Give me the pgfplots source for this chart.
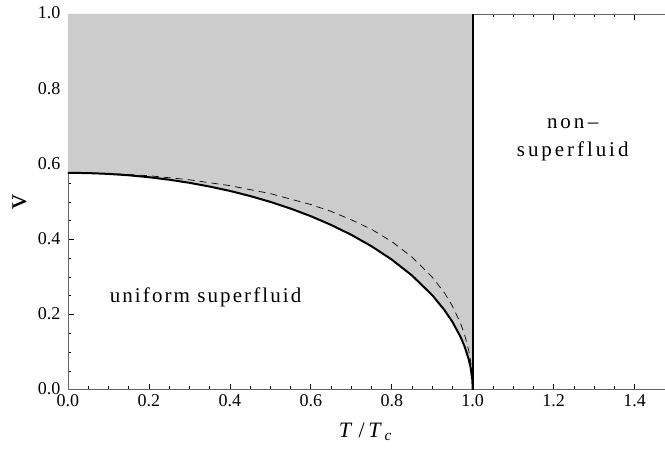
\documentclass[border=0pt]{standalone}
\usepackage{fontspec}
\setmainfont{Liberation Serif}
\usepackage{pgfplots}
\pgfplotsset{compat=1.18}

\definecolor{shade}{HTML}{CCCCCC}
\definecolor{frame}{HTML}{666666}

\begin{document}
\begin{tikzpicture}
\begin{axis}[
    scale only axis,
    width=597pt, height=376pt,
    xmin=0, xmax=1.474, ymin=0, ymax=1,
    axis x line=box, axis y line=left,
    axis line style={frame, line width=0.8pt, -},
    xtick={0,0.2,...,1.4}, ytick={0,0.2,...,1.0},
    minor tick num=3,
    tick align=inside,
    major tick length=6pt, minor tick length=3.5pt,
    tick style={black, line width=0.7pt},
    xticklabel style={font=\fontsize{18}{18}\selectfont, yshift=-1pt},
    yticklabel style={font=\fontsize{18}{18}\selectfont, xshift=-4pt, yshift=1pt},
    /pgf/number format/assume math mode=true,
    /pgf/number format/.cd, fixed, fixed zerofill, precision=1,
    /pgfplots/.cd,
    xlabel={\addfontfeature{LetterSpace=12}\textit{T}\,/\,\textit{T}\textsubscript{\textit{c}}},
    xlabel style={font=\fontsize{22}{22}\selectfont, at={(rel axis cs:0.5,0)}, anchor=center, yshift=-42pt},
    ylabel={v},
    ylabel style={font=\fontsize{30}{30}\selectfont, at={(rel axis cs:0,0.5)}, anchor=center, yshift=48pt},
]
\coordinate (O) at (rel axis cs:0,0);
\coordinate (NE) at (rel axis cs:1,1);
% shaded region above the solid curve
\addplot[fill=shade, draw=none] coordinates {
    (0,0.5774) (0.05,0.5766) (0.1,0.5745) (0.15,0.5708) (0.2,0.5657)
    (0.25,0.5590) (0.3,0.5508) (0.35,0.5408) (0.4,0.5292) (0.45,0.5156)
    (0.5,0.5000) (0.55,0.4822) (0.6,0.4619) (0.65,0.4387) (0.7,0.4123)
    (0.75,0.3819) (0.8,0.3464) (0.85,0.3041) (0.9,0.2517) (0.93,0.2122)
    (0.95,0.1803) (0.97,0.1404) (0.98,0.1149) (0.99,0.0814) (0.995,0.0577)
    (0.999,0.0258) (1.0,0) (1.0,1) (0,1)
};
% dashed curve
\addplot[black, line width=0.7pt, dash pattern=on 7pt off 5pt] coordinates {
    (0,0.5774) (0.1,0.5755) (0.2,0.5697) (0.3,0.5588) (0.4,0.5432)
    (0.5,0.5220) (0.6,0.4929) (0.65,0.4747) (0.7,0.4523) (0.75,0.4269)
    (0.8,0.3944) (0.85,0.3531) (0.9,0.2997) (0.93,0.2582) (0.95,0.2223)
    (0.97,0.1764) (0.98,0.1459) (0.99,0.1054) (0.995,0.0747) (0.999,0.0338) (1.0,0)
};
% solid boundary
\addplot[black, line width=2pt] coordinates {
    (0,0.5774) (0.05,0.5766) (0.1,0.5745) (0.15,0.5708) (0.2,0.5657)
    (0.25,0.5590) (0.3,0.5508) (0.35,0.5408) (0.4,0.5292) (0.45,0.5156)
    (0.5,0.5000) (0.55,0.4822) (0.6,0.4619) (0.65,0.4387) (0.7,0.4123)
    (0.75,0.3819) (0.8,0.3464) (0.85,0.3041) (0.9,0.2517) (0.93,0.2122)
    (0.95,0.1803) (0.97,0.1404) (0.98,0.1149) (0.99,0.0814) (0.995,0.0577)
    (0.999,0.0258) (1.0,0)
};
% vertical line at T = Tc
\addplot[black, line width=2pt] coordinates {(1,0) (1,1)};

\node[font=\fontsize{21}{21}\selectfont\addfontfeature{LetterSpace=10}]
    at (axis cs:0.34,0.247) {uniform superfluid};
\node[font=\fontsize{21}{21}\selectfont\addfontfeature{LetterSpace=14}, align=center]
    at (axis cs:1.247,0.665) {non\,–\\[7pt]superfluid};
\end{axis}
\path ([shift={(-68pt,-63pt)}]O) rectangle ([shift={(0pt,14pt)}]NE);
\end{tikzpicture}
\end{document}
